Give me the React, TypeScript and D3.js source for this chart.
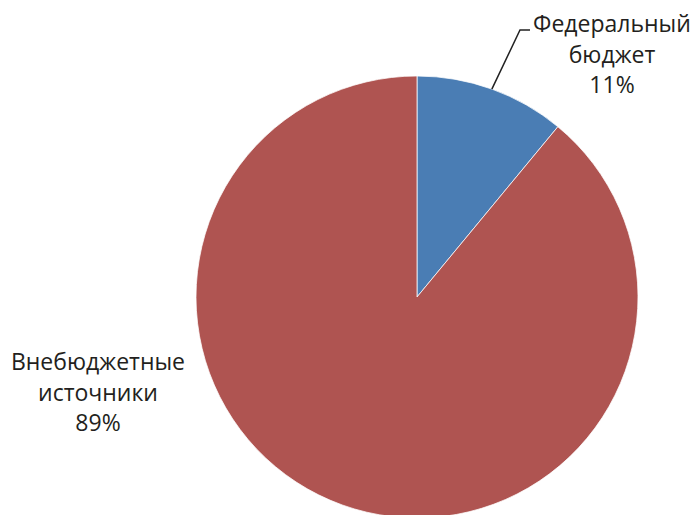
import React from "react";
import * as d3 from "d3";

const categories = ["Федеральный бюджет", "Внебюджетные источники"];
const labelLines = [["Федеральный", "бюджет"], ["Внебюджетные", "источники"]];
const values = [11, 89];
const colors = ["#4A7DB4", "#AF5451"];

const W = 697;
const H = 515;
const cx = 417;
const cy = 297;
const R = 221;

export default function App() {
  const pie = d3.pie<number>().sort(null).value((d) => d)(values);
  const arc = d3.arc<d3.PieArcDatum<number>>().innerRadius(0).outerRadius(R);
  const total = d3.sum(values);

  // leader line for first slice
  const a0 = (pie[0].startAngle + pie[0].endAngle) / 2;
  const p0: [number, number] = [cx + R * Math.sin(a0), cy - R * Math.cos(a0)];
  const elbow: [number, number] = [520, 30];
  const end: [number, number] = [530, 30];

  const labelPos = [
    { x: 612, y: 32 },
    { x: 98, y: 370 },
  ];
  const lh = 30.5;

  return (
    <svg
      width={W}
      height={H}
      style={{ position: "absolute", left: 0, top: 0, background: "#fff" }}
      fontFamily="'Open Sans', sans-serif"
    >
      <g transform={`translate(${cx},${cy})`}>
        {pie.map((d, i) => (
          <path key={categories[i]} d={arc(d) || ""} fill={colors[i]} stroke="#fff" strokeWidth={0.75} />
        ))}
      </g>
      <polyline
        points={[p0, elbow, end].map((p) => p.join(",")).join(" ")}
        fill="none"
        stroke="#222"
        strokeWidth={1.5}
      />
      {labelLines.map((lines, i) => (
        <text key={i} textAnchor="middle" fontSize={23} fill="#231f20">
          {[...lines, `${Math.round((values[i] / total) * 100)}%`].map((t, j) => (
            <tspan key={j} x={labelPos[i].x} y={labelPos[i].y + j * lh}>
              {t}
            </tspan>
          ))}
        </text>
      ))}
    </svg>
  );
}
